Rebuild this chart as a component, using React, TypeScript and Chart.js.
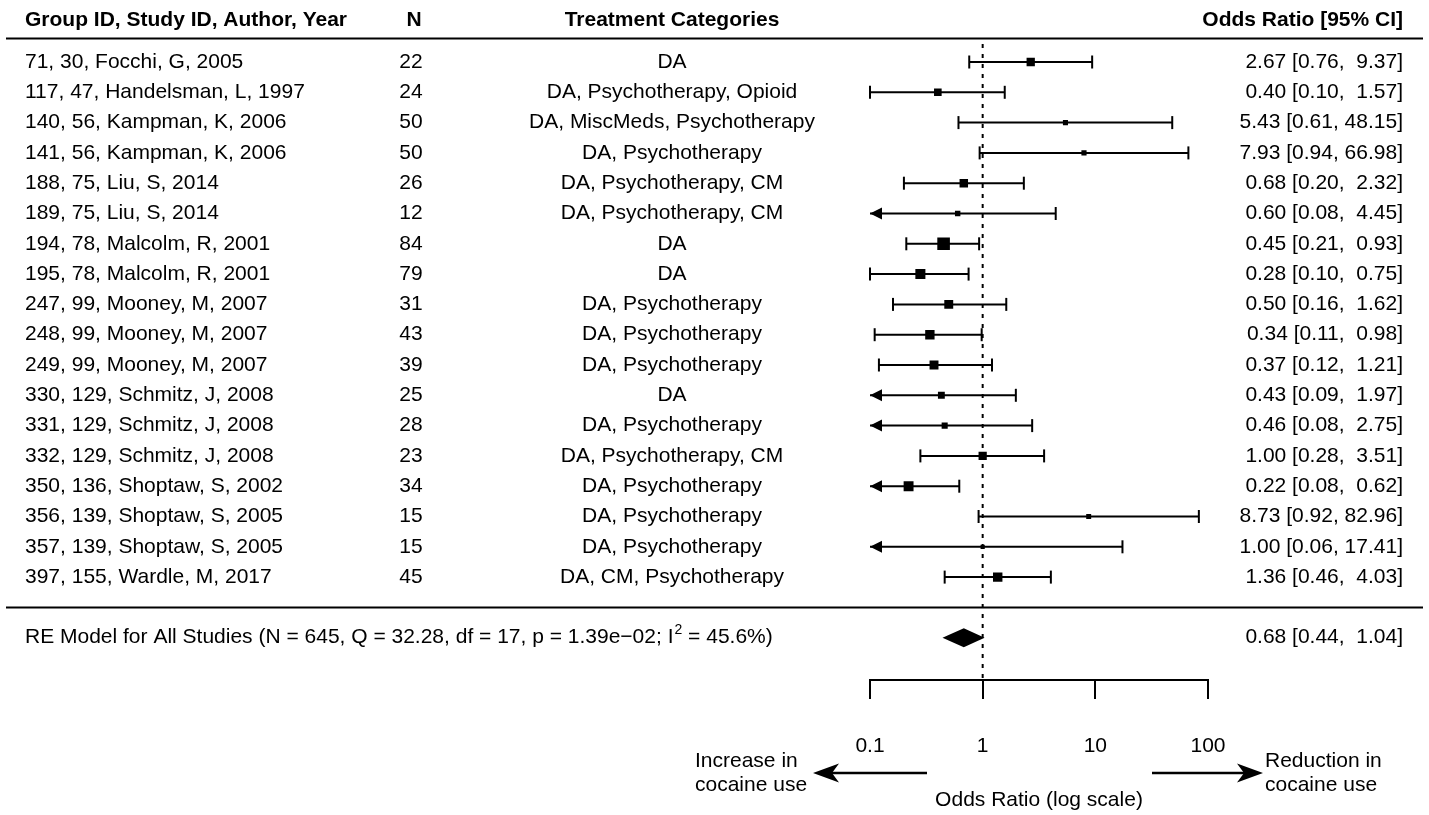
import React, { useEffect, useRef } from 'react';
import { Chart, registerables } from 'chart.js';

Chart.register(...registerables);

// ---------------- data ----------------
const studyLabels = [
  '71, 30, Focchi, G, 2005',
  '117, 47, Handelsman, L, 1997',
  '140, 56, Kampman, K, 2006',
  '141, 56, Kampman, K, 2006',
  '188, 75, Liu, S, 2014',
  '189, 75, Liu, S, 2014',
  '194, 78, Malcolm, R, 2001',
  '195, 78, Malcolm, R, 2001',
  '247, 99, Mooney, M, 2007',
  '248, 99, Mooney, M, 2007',
  '249, 99, Mooney, M, 2007',
  '330, 129, Schmitz, J, 2008',
  '331, 129, Schmitz, J, 2008',
  '332, 129, Schmitz, J, 2008',
  '350, 136, Shoptaw, S, 2002',
  '356, 139, Shoptaw, S, 2005',
  '357, 139, Shoptaw, S, 2005',
  '397, 155, Wardle, M, 2017',
];
const sampleSizes = [22, 24, 50, 50, 26, 12, 84, 79, 31, 43, 39, 25, 28, 23, 34, 15, 15, 45];
const treatments = [
  'DA',
  'DA, Psychotherapy, Opioid',
  'DA, MiscMeds, Psychotherapy',
  'DA, Psychotherapy',
  'DA, Psychotherapy, CM',
  'DA, Psychotherapy, CM',
  'DA',
  'DA',
  'DA, Psychotherapy',
  'DA, Psychotherapy',
  'DA, Psychotherapy',
  'DA',
  'DA, Psychotherapy',
  'DA, Psychotherapy, CM',
  'DA, Psychotherapy',
  'DA, Psychotherapy',
  'DA, Psychotherapy',
  'DA, CM, Psychotherapy',
];
const oddsRatios = [2.67, 0.40, 5.43, 7.93, 0.68, 0.60, 0.45, 0.28, 0.50, 0.34, 0.37, 0.43, 0.46, 1.00, 0.22, 8.73, 1.00, 1.36];
const ciLower = [0.76, 0.10, 0.61, 0.94, 0.20, 0.08, 0.21, 0.10, 0.16, 0.11, 0.12, 0.09, 0.08, 0.28, 0.08, 0.92, 0.06, 0.46];
const ciUpper = [9.37, 1.57, 48.15, 66.98, 2.32, 4.45, 0.93, 0.75, 1.62, 0.98, 1.21, 1.97, 2.75, 3.51, 0.62, 82.96, 17.41, 4.03];

const pooledEstimate = 0.68;
const pooledLower = 0.44;
const pooledUpper = 1.04;
const pooledN = 645;
const pooledQ = '32.28';
const pooledDf = 17;
const pooledP = '1.39e\u221202';
const pooledI2 = '45.6';
const tau2 = 0.2;

const columnHeaders = ['Group ID, Study ID, Author, Year', 'N', 'Treatment Categories', 'Odds Ratio [95% CI]'];
const xTickValues = [0.1, 1, 10, 100];
const xTickLabels = ['0.1', '1', '10', '100'];
const xAxisTitle = 'Odds Ratio (log scale)';
const leftArrowText = ['Increase in', 'cocaine use'];
const rightArrowText = ['Reduction in', 'cocaine use'];

// ---------------- layout / style ----------------
const W = 1429;
const H = 815;
const FONT = '"Liberation Sans", Arial, Helvetica, sans-serif';
const FS = 21;
const X_MIN = 0.1;
const X_MAX = 100;
const SUMMARY_ROW = 20;
const SEPARATOR_ROW = 19;

const fmt = (v: number) => v.toFixed(2);
const fmtUpper = (v: number) => (v < 10 ? '  ' : ' ') + v.toFixed(2);
const ciText = (e: number, l: number, u: number) => `${fmt(e)} [${fmt(l)},${fmtUpper(u)}]`;

// square sizes from inverse-variance (random effects) weights, metafor style 0.5..1.5
const weights = oddsRatios.map((_, i) => {
  const se = (Math.log(ciUpper[i]) - Math.log(ciLower[i])) / 3.92;
  return 1 / (se * se + tau2);
});
const wMin = Math.min(...weights);
const wMax = Math.max(...weights);
const BASE_SIDE = 8.4;
const squareSides = weights.map((w) => BASE_SIDE * ((w - wMin) / (wMax - wMin) + 0.5));

function drawText(ctx: CanvasRenderingContext2D, text: string, x: number, y: number, align: CanvasTextAlign, bold = false, size = FS) {
  ctx.font = `${bold ? 'bold ' : ''}${size}px ${FONT}`;
  ctx.textAlign = align;
  ctx.textBaseline = 'middle';
  ctx.fillStyle = '#000';
  ctx.fillText(text, x, y);
}

function bigArrow(ctx: CanvasRenderingContext2D, from: number, tip: number, y: number) {
  const dir = Math.sign(tip - from);
  ctx.beginPath();
  ctx.lineWidth = 2.5;
  ctx.moveTo(from, y);
  ctx.lineTo(tip - dir * 10, y);
  ctx.stroke();
  ctx.beginPath();
  ctx.moveTo(tip, y);
  ctx.lineTo(tip - dir * 26, y - 9.5);
  ctx.lineTo(tip - dir * 19, y);
  ctx.lineTo(tip - dir * 26, y + 9.5);
  ctx.closePath();
  ctx.fill();
}

const forestPlugin = {
  id: 'forestPlot',
  beforeDatasetsDraw(chart: any) {
    const { ctx, chartArea } = chart;
    const x = chart.scales.x;
    const y = chart.scales.y;
    ctx.save();
    ctx.strokeStyle = '#000';
    ctx.fillStyle = '#000';
    // dotted reference line at OR = 1
    const x1 = x.getPixelForValue(1);
    ctx.lineWidth = 2;
    ctx.setLineDash([4, 6]);
    ctx.beginPath();
    ctx.moveTo(x1, 44);
    ctx.lineTo(x1, chartArea.bottom);
    ctx.stroke();
    ctx.setLineDash([]);

    // confidence intervals
    ctx.lineWidth = 2;
    oddsRatios.forEach((_, i) => {
      const py = y.getPixelForValue(i + 1);
      const lo = ciLower[i];
      const hi = ciUpper[i];
      const pl = x.getPixelForValue(Math.max(lo, X_MIN));
      const pr = x.getPixelForValue(Math.min(hi, X_MAX));
      ctx.beginPath();
      ctx.moveTo(pl, py);
      ctx.lineTo(pr, py);
      ctx.stroke();
      ctx.beginPath();
      ctx.moveTo(pr, py - 6.5);
      ctx.lineTo(pr, py + 6.5);
      ctx.stroke();
      if (lo < X_MIN) {
        ctx.beginPath();
        ctx.moveTo(pl, py);
        ctx.lineTo(pl + 12, py - 6);
        ctx.lineTo(pl + 12, py + 6);
        ctx.closePath();
        ctx.fill();
      } else {
        ctx.beginPath();
        ctx.moveTo(pl, py - 6.5);
        ctx.lineTo(pl, py + 6.5);
        ctx.stroke();
      }
    });
    ctx.restore();
  },
  afterDraw(chart: any) {
    const { ctx, chartArea } = chart;
    const x = chart.scales.x;
    const y = chart.scales.y;
    ctx.save();
    ctx.strokeStyle = '#000';
    ctx.fillStyle = '#000';

    // header
    const headerY = 20;
    drawText(ctx, columnHeaders[0], 25, headerY, 'left', true);
    drawText(ctx, columnHeaders[1], 414, headerY, 'center', true);
    drawText(ctx, columnHeaders[2], 672, headerY, 'center', true);
    drawText(ctx, columnHeaders[3], 1403, headerY, 'right', true);

    // rules
    ctx.lineWidth = 2;
    ctx.beginPath();
    ctx.moveTo(6, 38.5);
    ctx.lineTo(1423, 38.5);
    ctx.stroke();
    const sepY = y.getPixelForValue(SEPARATOR_ROW);
    ctx.beginPath();
    ctx.moveTo(6, sepY);
    ctx.lineTo(1423, sepY);
    ctx.stroke();

    // rows
    studyLabels.forEach((label, i) => {
      const py = y.getPixelForValue(i + 1);
      drawText(ctx, label, 25, py, 'left');
      drawText(ctx, String(sampleSizes[i]), 411, py, 'center');
      drawText(ctx, treatments[i], 672, py, 'center');
      drawText(ctx, ciText(oddsRatios[i], ciLower[i], ciUpper[i]), 1403, py, 'right');
    });

    // summary diamond
    const sy = y.getPixelForValue(SUMMARY_ROW);
    const dl = x.getPixelForValue(pooledLower);
    const de = x.getPixelForValue(pooledEstimate);
    const du = x.getPixelForValue(pooledUpper);
    ctx.beginPath();
    ctx.moveTo(dl, sy);
    ctx.lineTo(de, sy - 9.5);
    ctx.lineTo(du, sy);
    ctx.lineTo(de, sy + 9.5);
    ctx.closePath();
    ctx.fill();

    // summary text
    const part1 = `RE Model for All Studies (N = ${pooledN}, Q = ${pooledQ}, df = ${pooledDf}, p = ${pooledP}; I`;
    drawText(ctx, part1, 25, sy, 'left');
    ctx.font = `${FS}px ${FONT}`;
    const w1 = ctx.measureText(part1).width;
    drawText(ctx, '2', 25 + w1 + 1, sy - 8, 'left', false, 14);
    ctx.font = `14px ${FONT}`;
    const w2 = ctx.measureText('2').width;
    drawText(ctx, ` = ${pooledI2}%)`, 25 + w1 + 1 + w2, sy, 'left');
    drawText(ctx, ciText(pooledEstimate, pooledLower, pooledUpper), 1403, sy, 'right');

    // axis title and direction arrows
    drawText(ctx, xAxisTitle, (chartArea.left + chartArea.right) / 2, 800, 'center');
    bigArrow(ctx, 927, 813, 773);
    bigArrow(ctx, 1152, 1263, 773);
    drawText(ctx, leftArrowText[0], 695, 761, 'left');
    drawText(ctx, leftArrowText[1], 695, 785, 'left');
    drawText(ctx, rightArrowText[0], 1265, 761, 'left');
    drawText(ctx, rightArrowText[1], 1265, 785, 'left');
    ctx.restore();
  },
};

export default function App() {
  const canvasRef = useRef<HTMLCanvasElement | null>(null);

  useEffect(() => {
    document.body.style.margin = '0';
    const canvas = canvasRef.current;
    if (!canvas) return;
    Chart.defaults.font.family = FONT;
    const tickPadding = 35;
    const tickLength = 19;
    const axisHeight = tickLength + 2 * tickPadding + FS * 1.2;
    const axisBottom = 680;
    const chart = new Chart(canvas, {
      type: 'scatter',
      data: {
        datasets: [
          {
            label: 'Odds ratio',
            data: oddsRatios.map((v, i) => ({ x: v, y: i + 1 })),
            pointStyle: 'rect',
            pointRadius: squareSides.map((s) => s / Math.SQRT2),
            pointBorderWidth: 0,
            borderWidth: 0,
            backgroundColor: '#000',
            borderColor: '#000',
          },
        ],
      },
      options: {
        responsive: false,
        animation: false,
        events: [],
        layout: {
          padding: { left: 870, right: W - 1208, top: 31.7, bottom: H - axisBottom - axisHeight },
        },
        plugins: {
          legend: { display: false },
          tooltip: { enabled: false },
        },
        scales: {
          x: {
            type: 'logarithmic',
            min: X_MIN,
            max: X_MAX,
            position: 'bottom',
            border: { display: true, color: '#000', width: 2 },
            grid: { drawOnChartArea: false, drawTicks: true, tickLength, color: '#000', lineWidth: 2 },
            afterBuildTicks: (scale: any) => {
              scale.ticks = xTickValues.map((v) => ({ value: v }));
            },
            ticks: {
              padding: tickPadding,
              color: '#000',
              font: { size: FS, family: FONT },
              maxRotation: 0,
              autoSkip: false,
              callback: (value: any) => {
                const idx = xTickValues.indexOf(Number(value));
                return idx >= 0 ? xTickLabels[idx] : '';
              },
            },
          },
          y: {
            type: 'linear',
            display: false,
            reverse: true,
            min: 0,
            max: 21.396,
          },
        },
      },
      plugins: [forestPlugin],
    });
    return () => chart.destroy();
  }, []);

  return (
    <div style={{ position: 'absolute', left: 0, top: 0, width: W, height: H, background: '#fff' }}>
      <canvas ref={canvasRef} width={W} height={H} style={{ width: W, height: H }} />
    </div>
  );
}
